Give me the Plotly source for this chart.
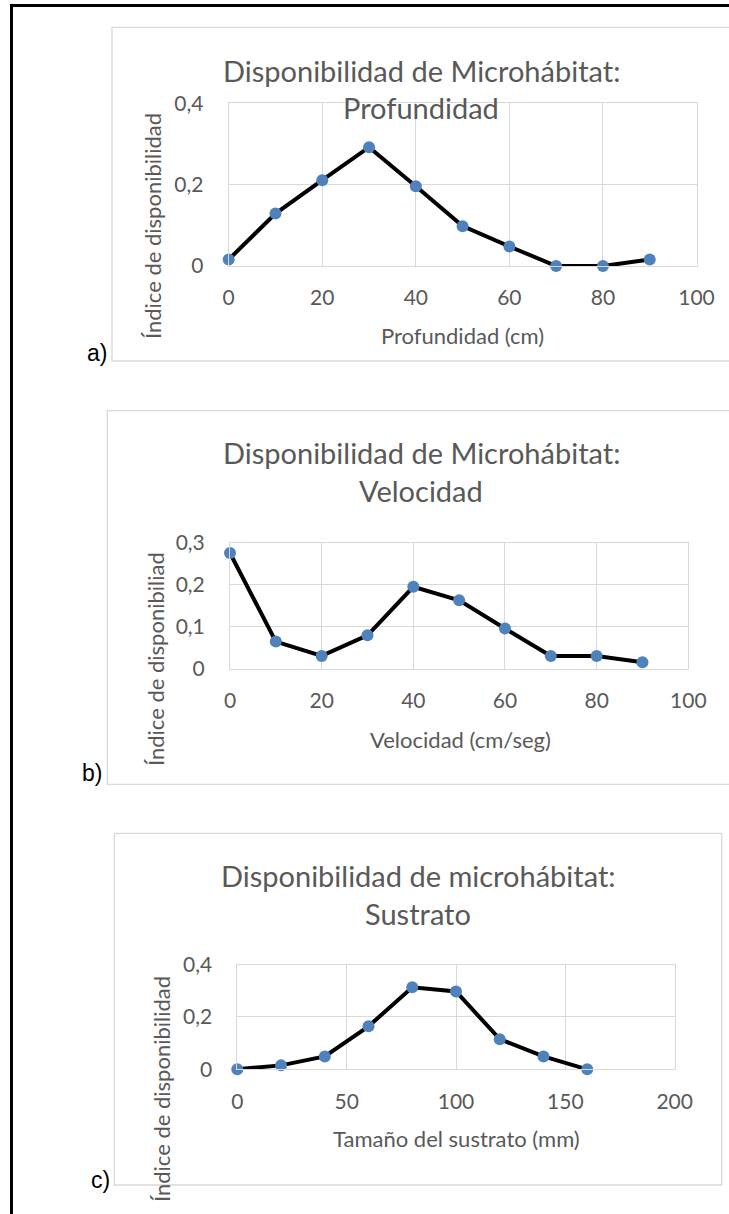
import plotly.graph_objects as go

# ---------------- data ----------------
prof_x = [0, 10, 20, 30, 40, 50, 60, 70, 80, 90]
prof_y = [0.016, 0.129, 0.211, 0.292, 0.196, 0.098, 0.048, 0.0, 0.0, 0.016]

vel_x = [0, 10, 20, 30, 40, 50, 60, 70, 80, 90]
vel_y = [0.275, 0.065, 0.031, 0.080, 0.195, 0.163, 0.096, 0.031, 0.031, 0.016]

sus_x = [0, 20, 40, 60, 80, 100, 120, 140, 160]
sus_y = [0.0, 0.015, 0.049, 0.164, 0.313, 0.297, 0.115, 0.049, 0.0]

titles = [
    ("Disponibilidad de Microhábitat:", "Profundidad"),
    ("Disponibilidad de Microhábitat:", "Velocidad"),
    ("Disponibilidad de microhábitat:", "Sustrato"),
]
x_titles = ["Profundidad (cm)", "Velocidad (cm/seg)", "Tamaño del sustrato (mm)"]
y_titles = ["Índice de disponibilidad", "Índice de disponibiliad", "Índice de disponibilidad"]
panel_labels = ["a)", "b)", "c)"]

W, H = 729, 1214
FONT = "Lato, 'Open Sans', sans-serif"
GRAY = "#595959"
GRID = "#d9d9d9"
BLUE = "#4f81bd"


def fx(px):
    return px / W


def fy(py):
    return 1 - py / H


fig = go.Figure()

series = [(prof_x, prof_y), (vel_x, vel_y), (sus_x, sus_y)]
# plot-area pixel boxes (x0, x1, ytop, ybottom)
areas = [(228.7, 696.5, 103.3, 266.0), (230.0, 688.3, 542.5, 669.0), (237.3, 674.7, 964.5, 1069.3)]
xranges = [[0, 100], [0, 100], [0, 200]]
xdticks = [20, 20, 50]
yranges = [[0, 0.4], [0, 0.3], [0, 0.4]]
ydticks = [0.2, 0.1, 0.2]

for i, ((xs, ys), (x0, x1, yt, yb)) in enumerate(zip(series, areas)):
    n = "" if i == 0 else str(i + 1)
    fig.add_trace(go.Scatter(
        x=xs, y=ys, mode="lines+markers",
        line=dict(color="black", width=4),
        marker=dict(color=BLUE, size=12),
        cliponaxis=False, showlegend=False,
        xaxis="x" + n, yaxis="y" + n,
    ))
    axcommon = dict(
        showgrid=True, gridcolor=GRID, gridwidth=1,
        showline=True, linecolor=GRID, linewidth=1, mirror=True,
        zeroline=False, ticks="", automargin=False,
        tickfont=dict(family=FONT, size=21, color=GRAY),
        fixedrange=True,
    )
    fig.update_layout(**{
        "xaxis" + n: dict(axcommon, domain=[fx(x0), fx(x1)], range=xranges[i],
                          dtick=xdticks[i], tick0=0, anchor="y" + n,
                          ticklabelstandoff=13),
        "yaxis" + n: dict(axcommon, domain=[fy(yb), fy(yt)], range=yranges[i],
                          dtick=ydticks[i], tick0=0, anchor="x" + n,
                          ticklabelstandoff=20),
    })

annotations = []
shapes = []

# chart boxes (light gray borders)
boxes = [(112, 760, 27.3, 361), (107.3, 760, 410.7, 784.3), (114.3, 721.7, 833.3, 1185)]
for (bx0, bx1, by0, by1) in boxes:
    shapes.append(dict(type="rect", xref="paper", yref="paper",
                       x0=fx(bx0), x1=fx(bx1), y0=fy(by1), y1=fy(by0),
                       line=dict(color=GRID, width=1.3), layer="below"))

# outer black frame (left & top)
shapes.append(dict(type="line", xref="paper", yref="paper",
                   x0=fx(11.5), x1=fx(11.5), y0=fy(1300), y1=fy(5.5),
                   line=dict(color="black", width=3)))
shapes.append(dict(type="line", xref="paper", yref="paper",
                   x0=fx(10), x1=fx(800), y0=fy(5.5), y1=fy(5.5),
                   line=dict(color="black", width=3)))

title_pos = [(421, 70, 107), (421, 452, 490), (418, 875, 913)]
xt_pos = [(462, 335), (460, 739), (456, 1138)]
yt_pos = [(152, 226), (155, 659), (161, 1089)]
lab_pos = [(97, 353), (92, 773), (101, 1180)]

for i in range(3):
    cx, y1, y2 = title_pos[i]
    for txt, yy in zip(titles[i], (y1, y2)):
        annotations.append(dict(text=txt, x=fx(cx), y=fy(yy), xref="paper", yref="paper",
                                xanchor="center", yanchor="middle", showarrow=False,
                                font=dict(family=FONT, size=29, color=GRAY, weight="normal")))
    annotations.append(dict(text=x_titles[i], x=fx(xt_pos[i][0]), y=fy(xt_pos[i][1]),
                            xref="paper", yref="paper", xanchor="center", yanchor="middle",
                            showarrow=False,
                            font=dict(family=FONT, size=22, color=GRAY, weight="normal")))
    annotations.append(dict(text=y_titles[i], x=fx(yt_pos[i][0]), y=fy(yt_pos[i][1]),
                            xref="paper", yref="paper", xanchor="center", yanchor="middle",
                            textangle=-90, showarrow=False,
                            font=dict(family=FONT, size=22, color=GRAY, weight="normal")))
    annotations.append(dict(text=panel_labels[i], x=fx(lab_pos[i][0]), y=fy(lab_pos[i][1]),
                            xref="paper", yref="paper", xanchor="center", yanchor="middle",
                            showarrow=False,
                            font=dict(family="'Liberation Sans', Arial, sans-serif", size=23,
                                      color="black", weight="normal")))

fig.update_layout(
    width=W, height=H,
    margin=dict(l=0, r=0, t=0, b=0, autoexpand=False),
    paper_bgcolor="white", plot_bgcolor="white",
    separators=",.",
    annotations=annotations, shapes=shapes,
    showlegend=False,
)

fig.write_html(
    "out.html",
    config={"displayModeBar": False},
    post_script="document.body.style.margin='0';document.body.style.padding='0';"
                "document.body.style.overflow='hidden';"
                "document.documentElement.style.overflow='hidden';",
)
